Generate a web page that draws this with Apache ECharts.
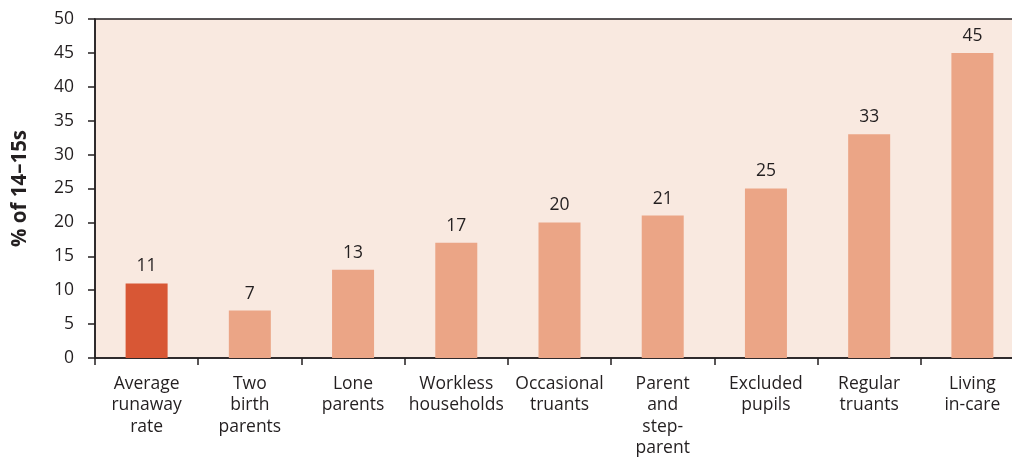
<!DOCTYPE html>
<html>
<head>
<meta charset="utf-8">
<script src="https://cdn.jsdelivr.net/npm/echarts@6/dist/echarts.min.js"></script>
<style>
html,body{margin:0;padding:0;background:#fff;}
#c{width:1012px;height:461px;}
</style>
</head>
<body>
<div id="c"></div>
<script>
var categories = ["Average\nrunaway\nrate","Two\nbirth\nparents","Lone\nparents","Workless\nhouseholds","Occasional\ntruants","Parent\nand\nstep-\nparent","Excluded\npupils","Regular\ntruants","Living\nin-care"];
var values = [11,7,13,17,20,21,25,33,45];
var yTicks = [0,5,10,15,20,25,30,35,40,45,50];

var FONT = "'Open Sans', sans-serif";
var chart = echarts.init(document.getElementById('c'));
chart.setOption({
  animation: false,
  grid: {left: 95, top: 19, right: -12, bottom: 103, outerBoundsMode: 'none', containLabel: false, show: true, backgroundColor: '#F9E9E0', borderColor: '#231F20', borderWidth: 1.5},
  xAxis: {
    type: 'category', data: categories,
    axisLine: {lineStyle: {color: '#231F20', width: 1.5}},
    axisTick: {show: true, length: 7, lineStyle: {color: '#231F20', width: 1.5}},
    axisLabel: {interval: 0, color: '#231F20', fontFamily: FONT, fontSize: 17.5, lineHeight: 21.5, margin: 15}
  },
  yAxis: {
    type: 'value', min: yTicks[0], max: yTicks[yTicks.length-1], interval: 5,
    name: '% of 14–15s', nameLocation: 'middle', nameGap: 64,
    nameTextStyle: {fontFamily: FONT, fontSize: 20.5, fontWeight: 'bold', color: '#231F20'},
    axisLine: {show: true, lineStyle: {color: '#231F20', width: 1.5}},
    axisTick: {show: true, length: 7, lineStyle: {color: '#231F20', width: 1.5}},
    axisLabel: {color: '#231F20', fontFamily: FONT, fontSize: 17.5, margin: 21},
    splitLine: {show: false}
  },
  series: [{
    type: 'bar', barWidth: 42,
    data: values.map(function(v, i){ return {value: v, itemStyle: {color: i === 0 ? '#D85735' : '#EBA586'}}; }),
    label: {show: true, position: 'top', distance: 8, color: '#231F20', fontFamily: FONT, fontSize: 17.5}
  }]
});
</script>
</body>
</html>
